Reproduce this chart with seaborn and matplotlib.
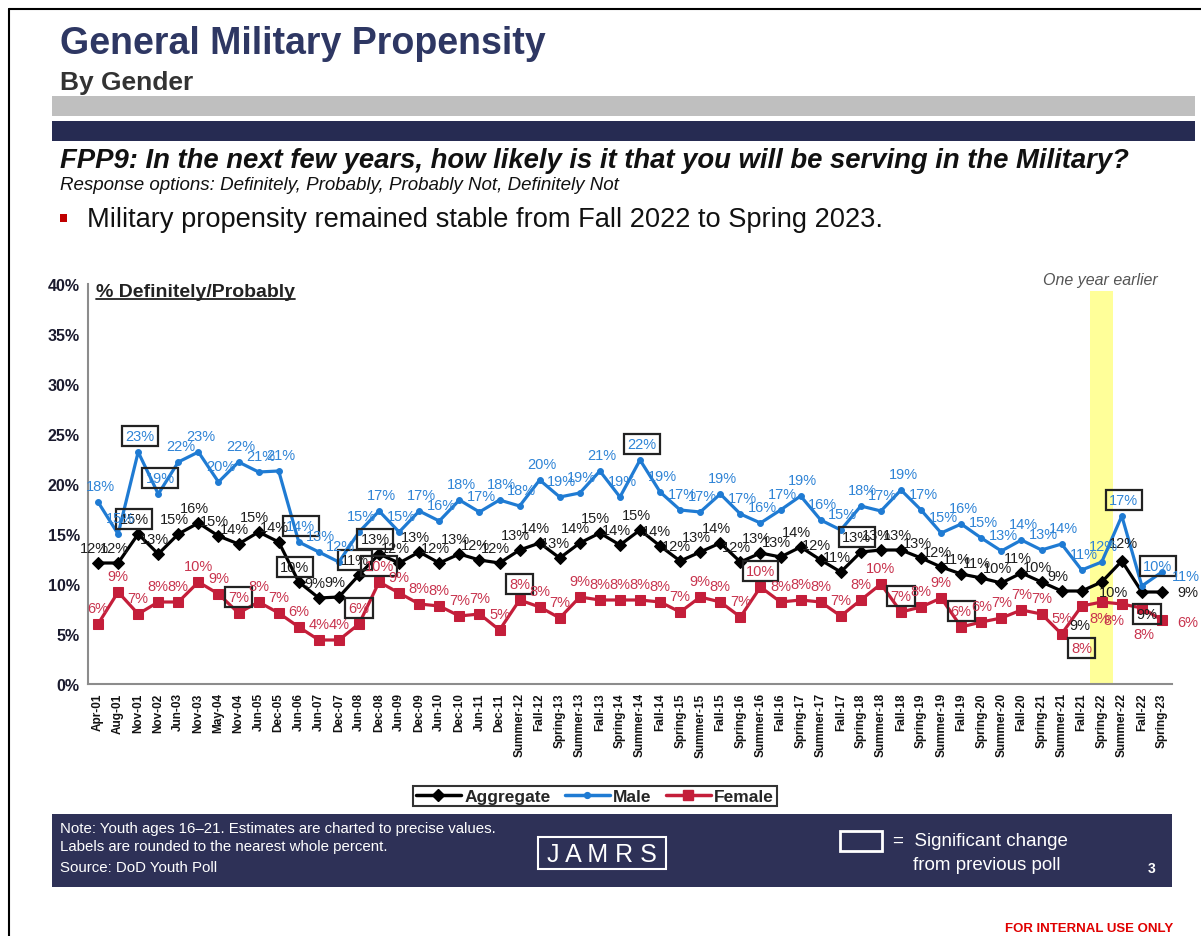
import numpy as np
import pandas as pd
import matplotlib
matplotlib.use("Agg")
import matplotlib.pyplot as plt
import matplotlib.patches as mpatches
from matplotlib.lines import Line2D
import seaborn as sns

# ---- data -------------------------------------------------------------
periods = [
    "Apr-01", "Aug-01", "Nov-01", "Nov-02", "Jun-03", "Nov-03", "May-04", "Nov-04",
    "Jun-05", "Dec-05", "Jun-06", "Jun-07", "Dec-07", "Jun-08", "Dec-08", "Jun-09",
    "Dec-09", "Jun-10", "Dec-10", "Jun-11", "Dec-11", "Summer-12", "Fall-12",
    "Spring-13", "Summer-13", "Fall-13", "Spring-14", "Summer-14", "Fall-14",
    "Spring-15", "Summer-15", "Fall-15", "Spring-16", "Summer-16", "Fall-16",
    "Spring-17", "Summer-17", "Fall-17", "Spring-18", "Summer-18", "Fall-18",
    "Spring-19", "Summer-19", "Fall-19", "Spring-20", "Summer-20", "Fall-20",
    "Spring-21", "Summer-21", "Fall-21", "Spring-22", "Summer-22", "Fall-22",
    "Spring-23",
]

aggregate = [12.1, 12.1, 15.0, 13.0, 15.0, 16.1, 14.8, 14.0, 15.2, 14.2,
             10.2, 8.6, 8.7, 10.9, 13.0, 12.1, 13.2, 12.1, 13.0, 12.4,
             12.1, 13.4, 14.1, 12.6, 14.1, 15.1, 13.9, 15.4, 13.8, 12.3,
             13.2, 14.1, 12.2, 13.1, 12.7, 13.7, 12.4, 11.2, 13.2, 13.4,
             13.4, 12.6, 11.7, 11.0, 10.6, 10.1, 11.1, 10.2, 9.3, 9.3,
             10.2, 12.3, 9.2, 9.2]

male = [18.2, 15.0, 23.2, 19.0, 22.2, 23.2, 20.2, 22.2, 21.2, 21.3,
        14.2, 13.2, 12.2, 15.2, 17.3, 15.2, 17.3, 16.3, 18.4, 17.2,
        18.4, 17.8, 20.4, 18.7, 19.1, 21.3, 18.7, 22.4, 19.2, 17.4,
        17.2, 19.0, 17.0, 16.1, 17.4, 18.8, 16.4, 15.4, 17.8, 17.3,
        19.4, 17.4, 15.1, 16.0, 14.6, 13.3, 14.4, 13.4, 14.0, 11.4,
        12.2, 16.8, 9.8, 11.2]

female = [6.0, 9.2, 7.0, 8.2, 8.2, 10.2, 9.0, 7.1, 8.2, 7.1,
          5.7, 4.4, 4.4, 6.0, 10.2, 9.1, 8.0, 7.8, 6.8, 7.0,
          5.4, 8.4, 7.7, 6.6, 8.7, 8.4, 8.4, 8.4, 8.2, 7.2,
          8.7, 8.2, 6.7, 9.7, 8.2, 8.4, 8.2, 6.8, 8.4, 10.0,
          7.2, 7.7, 8.6, 5.7, 6.2, 6.6, 7.4, 7.0, 5.0, 7.8,
          8.2, 8.0, 7.6, 6.4]

# polls with a significant change from the previous poll
sig_aggregate = [2, 10, 13, 14, 38, 52]
sig_male = [2, 3, 10, 27, 51, 52]
sig_female = [7, 13, 14, 21, 33, 40, 43, 49]

series_names = ["Aggregate", "Male", "Female"]
y_ticks = [0, 5, 10, 15, 20, 25, 30, 35, 40]
highlight_period = "Spring-22"

# ---- styling ----------------------------------------------------------
W, H = 1201, 937
sns.set_theme(style="white")
plt.rcParams["font.family"] = ["Liberation Sans", "DejaVu Sans"]

NAVY = "#2E3157"
COLORS = {"Aggregate": "#000000", "Male": "#1F7BD3", "Female": "#C41E3A"}
LABEL_COLORS = {"Aggregate": "#1E1E1E", "Male": "#2F84D6", "Female": "#C8344E"}
MARKERS = {"Aggregate": "D", "Male": "o", "Female": "s"}
MSIZE = {"Aggregate": 6, "Male": 4.2, "Female": 6.5}


def fx(x):
    return x / W


def fy(y):
    return 1 - y / H


fig = plt.figure(figsize=(W / 100, H / 100), dpi=100)
fig.patch.set_facecolor("white")

# slide frame
fig.add_artist(Line2D([fx(9), fx(9)], [fy(10), fy(937)], color="black", lw=1.5, transform=fig.transFigure))
fig.add_artist(Line2D([fx(9), fx(1201)], [fy(10), fy(10)], color="black", lw=1.5, transform=fig.transFigure))

# header
fig.text(fx(60), fy(44), "General Military Propensity", fontsize=27, fontweight="bold",
         color="#2E3763", ha="left", va="center")
fig.text(fx(60), fy(83), "By Gender", fontsize=19, fontweight="bold", color="#333333",
         ha="left", va="center")
fig.add_artist(mpatches.Rectangle((fx(52), fy(117)), fx(1195) - fx(52), 20 / H,
                                  transform=fig.transFigure, color="#BFBFBF", lw=0))
fig.add_artist(mpatches.Rectangle((fx(52), fy(142)), fx(1195) - fx(52), 20 / H,
                                  transform=fig.transFigure, color="#262B52", lw=0))
fig.text(fx(60), fy(161),
         "FPP9: In the next few years, how likely is it that you will be serving in the Military?",
         fontsize=19.8, fontweight="bold", fontstyle="italic", color="#111111", ha="left", va="center")
fig.text(fx(60), fy(185), "Response options: Definitely, Probably, Probably Not, Definitely Not",
         fontsize=13.5, fontstyle="italic", color="#111111", ha="left", va="center")
fig.add_artist(mpatches.Rectangle((fx(60), fy(223)), 7 / W, 8 / H,
                                  transform=fig.transFigure, color="#C00000", lw=0))
fig.text(fx(87), fy(220), "Military propensity remained stable from Fall 2022 to Spring 2023.",
         fontsize=19.6, color="#111111", ha="left", va="center")

# ---- chart ------------------------------------------------------------
ax = fig.add_axes([fx(88), fy(685), (1172 - 88) / W, (685 - 285) / H])
ax.set_facecolor("white")

df = pd.DataFrame({"period": periods, "idx": np.arange(len(periods)),
                   "Aggregate": aggregate, "Male": male, "Female": female})
long = df.melt(id_vars=["period", "idx"], value_vars=series_names,
               var_name="series", value_name="pct")

hi = periods.index(highlight_period)
ax.axvspan(hi - 0.6, hi + 0.55, ymin=0, ymax=(685 - 292) / 400, color="#FFFF99", lw=0, zorder=0)
ax.text(hi - 0.05, 40.4, "One year earlier", fontsize=11.5, fontstyle="italic", color="#555555",
        ha="center", va="center", clip_on=False)

for name in series_names:
    sub = long[long["series"] == name]
    sns.lineplot(data=sub, x="idx", y="pct", color=COLORS[name], marker=MARKERS[name],
                 markersize=MSIZE[name], markeredgecolor=COLORS[name], linewidth=2.3,
                 ax=ax, legend=False, zorder=3)

# value labels
default_offset = {"Aggregate": (-4, 15), "Male": (2, 16), "Female": (0, 16)}
overrides = {
    ("Aggregate", 49): (-2, -34), ("Aggregate", 50): (12, -10), ("Aggregate", 52): (5, -22),
    ("Aggregate", 53): (26, 0), ("Male", 52): (16, 20), ("Male", 53): (24, -4),
    ("Female", 49): (0, -42), ("Female", 50): (-2, -16), ("Female", 51): (-8, -16),
    ("Female", 52): (2, -26), ("Female", 53): (26, -2), ("Aggregate", 51): (2, 18),
}
sig = {"Aggregate": set(sig_aggregate), "Male": set(sig_male), "Female": set(sig_female)}
values = {"Aggregate": aggregate, "Male": male, "Female": female}

for name in series_names:
    for i, v in enumerate(values[name]):
        dx, dy = overrides.get((name, i), default_offset[name])
        box = None
        if i in sig[name]:
            box = dict(boxstyle="square,pad=0.22", fc="none", ec="#222222", lw=1.6)
        ax.annotate(f"{int(np.floor(v + 0.5))}%", (i, v), xytext=(dx, dy),
                    textcoords="offset pixels", ha="center", va="center",
                    fontsize=10.5, color=LABEL_COLORS[name], bbox=box, zorder=5,
                    annotation_clip=False)

ax.set_xlim(-0.5, len(periods) - 0.5)
ax.set_ylim(0, 40)
ax.set_yticks(y_ticks)
ax.set_yticklabels([f"{t}%" for t in y_ticks], fontsize=11.5, fontweight="bold", color="#1A1A2E")
ax.set_xticks(np.arange(len(periods)))
ax.set_xticklabels(periods, rotation=90, fontsize=8.5, fontweight="bold", color="#111111")
ax.set_xticks(np.arange(len(periods) + 1) - 0.5, minor=True)
ax.tick_params(axis="x", which="major", length=0, pad=6)
ax.tick_params(axis="x", which="minor", length=4, width=1, color="#888888", direction="out")
ax.tick_params(axis="y", which="major", length=5, width=1, color="#888888", direction="out", pad=1)
ax.set_xlabel("")
ax.set_ylabel("")
for side in ["top", "right"]:
    ax.spines[side].set_visible(False)
for side in ["left", "bottom"]:
    ax.spines[side].set_color("#8C8C8C")
    ax.spines[side].set_linewidth(1.5)
ax.grid(False)

sub_title = ax.text(0.007, 0.982, "% Definitely/Probably", transform=ax.transAxes,
                    fontsize=14, fontweight="bold", color="#222222", ha="left", va="center")

# legend
handles = [Line2D([0], [0], color=COLORS[n], lw=2.5, marker=MARKERS[n],
                  markersize=MSIZE[n], markeredgecolor=COLORS[n]) for n in series_names]
leg = fig.legend(handles, series_names, loc="center", bbox_to_anchor=(fx(595), fy(797)),
                 ncol=3, frameon=True, fancybox=False, edgecolor="black", borderpad=0.15,
                 handlelength=2.6, handletextpad=0.2, columnspacing=0.8,
                 prop={"weight": "bold", "size": 12.5})
leg.get_frame().set_linewidth(1.5)

# footer
fig.add_artist(mpatches.Rectangle((fx(52), fy(888)), fx(1172) - fx(52), 73 / H,
                                  transform=fig.transFigure, color=NAVY, lw=0))
fig.text(fx(60), fy(829), "Note: Youth ages 16\u201321. Estimates are charted to precise values.",
         fontsize=10.8, color="white", ha="left", va="center")
fig.text(fx(60), fy(847), "Labels are rounded to the nearest whole percent.",
         fontsize=10.8, color="white", ha="left", va="center")
fig.text(fx(60), fy(868), "Source: DoD Youth Poll", fontsize=10.8, color="white", ha="left", va="center")
fig.add_artist(mpatches.Rectangle((fx(538), fy(870)), (666 - 538) / W, 32 / H,
                                  transform=fig.transFigure, fc="none", ec="white", lw=1.5))
fig.text(fx(602), fy(855), "J A M R S", fontsize=18, color="white", ha="center", va="center")
fig.add_artist(mpatches.Rectangle((fx(840), fy(852)), 42 / W, 20 / H,
                                  transform=fig.transFigure, fc="none", ec="white", lw=2))
fig.text(fx(893), fy(842), "=  Significant change", fontsize=13.5, color="white", ha="left", va="center")
fig.text(fx(913), fy(866), "from previous poll", fontsize=13.5, color="white", ha="left", va="center")
fig.text(fx(1152), fy(869), "3", fontsize=10, fontweight="bold", color="white", ha="center", va="center")
fig.text(fx(1173), fy(929), "FOR INTERNAL USE ONLY", fontsize=9.5, fontweight="bold",
         color="#E00000", ha="right", va="center")

# underline for the axis caption
fig.canvas.draw()
bb = sub_title.get_window_extent().transformed(fig.transFigure.inverted())
fig.add_artist(Line2D([bb.x0, bb.x1], [bb.y0 + 0.5 / H, bb.y0 + 0.5 / H], color="#222222",
                      lw=1.3, transform=fig.transFigure))

fig.savefig("out.png", dpi=100, facecolor="white")
